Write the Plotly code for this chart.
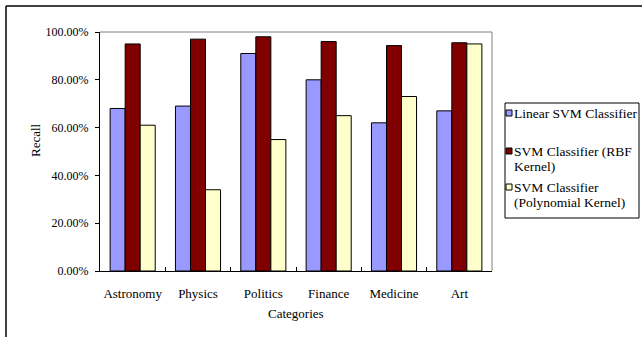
import plotly.graph_objects as go

categories = ["Astronomy", "Physics", "Politics", "Finance", "Medicine", "Art"]
linear_svm = [0.68, 0.69, 0.91, 0.80, 0.62, 0.67]
rbf_svm = [0.95, 0.97, 0.98, 0.96, 0.943, 0.955]
poly_svm = [0.61, 0.34, 0.55, 0.65, 0.73, 0.95]
series_names = ["Linear SVM Classifier", "SVM Classifier (RBF Kernel)", "SVM Classifier (Polynomial Kernel)"]
legend_lines = [["Linear SVM Classifier"], ["SVM Classifier (RBF", "Kernel)"], ["SVM Classifier", "(Polynomial Kernel)"]]
colors = ["#9999FF", "#800000", "#FFFFCC"]
y_ticks = [0, 0.2, 0.4, 0.6, 0.8, 1.0]

W, H = 642, 337
L, R, T, B = 100, 492, 32, 271
FONT = "'Times New Roman', 'Liberation Serif', 'DejaVu Serif', serif"


def px_x(x):
    return (x - L) / (R - L)


def px_y(y):
    return (B - y) / (B - T)


fig = go.Figure()
for name, vals, col in zip(series_names, [linear_svm, rbf_svm, poly_svm], colors):
    fig.add_trace(go.Bar(x=categories, y=vals, name=name, marker=dict(color=col, line=dict(color="black", width=1))))

shapes = []
# outer chart frame (top and left edges)
shapes.append(dict(type="line", xref="paper", yref="paper", x0=px_x(6), x1=px_x(642), y0=px_y(6), y1=px_y(6), line=dict(color="black", width=1.5)))
shapes.append(dict(type="line", xref="paper", yref="paper", x0=px_x(6), x1=px_x(6), y0=px_y(6), y1=px_y(337), line=dict(color="black", width=1.5)))
# plot area top and right edges
shapes.append(dict(type="line", xref="paper", yref="paper", x0=0, x1=1, y0=1, y1=1, line=dict(color="#808080", width=1)))
shapes.append(dict(type="line", xref="paper", yref="paper", x0=1, x1=1, y0=0, y1=1, line=dict(color="#808080", width=1)))
# legend box
shapes.append(dict(type="rect", xref="paper", yref="paper", x0=px_x(505), x1=px_x(639), y0=px_y(103), y1=px_y(218), line=dict(color="black", width=1), fillcolor="white"))

annotations = []
item_rows = [113, 151, 187]
for lines, col, yrow in zip(legend_lines, colors, item_rows):
    shapes.append(dict(type="rect", xref="paper", yref="paper", x0=px_x(506), x1=px_x(512), y0=px_y(yrow - 3), y1=px_y(yrow + 3), line=dict(color="black", width=1), fillcolor=col))
    for i, line in enumerate(lines):
        annotations.append(dict(text=line, xref="paper", yref="paper", x=px_x(512), y=px_y(yrow + 15 * i), xanchor="left", yanchor="middle", showarrow=False, font=dict(family=FONT, size=13.5, color="black")))

annotations.append(dict(text="Recall", xref="paper", yref="paper", x=px_x(35), y=px_y(140), textangle=-90, xanchor="center", yanchor="middle", showarrow=False, font=dict(family=FONT, size=13, color="black")))
annotations.append(dict(text="Categories", xref="paper", yref="paper", x=0.5, y=px_y(313), xanchor="center", yanchor="middle", showarrow=False, font=dict(family=FONT, size=13, color="black")))

fig.update_layout(
    width=W, height=H,
    margin=dict(l=L, r=W - R, t=T, b=H - B, pad=0),
    paper_bgcolor="white", plot_bgcolor="white",
    barmode="group", bargap=0.31, bargroupgap=0,
    showlegend=False,
    font=dict(family=FONT, size=13, color="black"),
    shapes=shapes, annotations=annotations,
)
fig.update_xaxes(type="category", showline=True, linecolor="black", linewidth=1, ticks="inside", ticklen=4, tickson="boundaries", tickcolor="black", showgrid=False, tickangle=0, ticklabelstandoff=10, tickfont=dict(family=FONT, size=13))
fig.update_yaxes(range=[0, 1], tickvals=y_ticks, tickformat=".2%", showline=True, linecolor="black", linewidth=1, ticks="outside", ticklen=4, tickcolor="black", showgrid=False, zeroline=False, ticklabelstandoff=4, tickfont=dict(family=FONT, size=12))

fig.write_html("out.html")
